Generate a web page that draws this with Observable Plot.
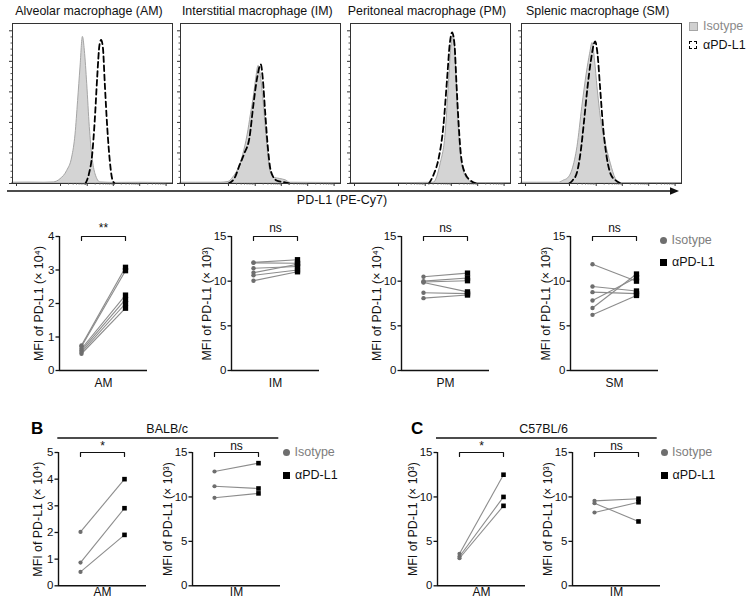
<!DOCTYPE html>
<html><head><meta charset="utf-8">
<script src="https://cdn.jsdelivr.net/npm/d3@7"></script>
<script src="https://cdn.jsdelivr.net/npm/@observablehq/plot@0.6"></script>
<style>
html,body{margin:0;padding:0;background:#fff;}
#root{position:relative;width:750px;height:605px;overflow:hidden;font-family:"Liberation Sans",Arial,Helvetica,sans-serif;}
#root svg{overflow:visible;}
</style></head>
<body><div id="root"></div>
<script>
// ---------------- DATA ----------------
const histTitles = ["Alveolar macrophage (AM)", "Interstitial macrophage (IM)", "Peritoneal macrophage (PM)", "Splenic macrophage (SM)"];
const histAxisLabel = "PD-L1 (PE-Cy7)";
const conditions = ["Isotype", "αPD-L1"];

// histogram curves: [fluorescence position (0-100 across panel), % of max]
const isoAM = [[0,0.5],[10,0.6],[20,0.5],[25.8,0.7],[30,2.8],[34.2,8.3],[37.3,17],[39.4,32],[41,54],[42.5,76],[44,96],[45.2,87],[46.7,65],[48.3,37],[50,17],[51.9,6],[55,0.7],[65,0.4],[80,0.5],[100,0.3]];
const apdAM = [[45.6,0],[47.7,6],[49.8,19],[51.5,43],[52.9,69],[54.4,91],[55.4,94],[56.5,89],[57.7,65],[59.2,37],[60.8,15],[62.3,3],[63.8,0]];
const isoIM = [[0,0.5],[20,0.5],[25,0.5],[30,1],[33,4],[36,9],[39,18],[42,32],[44,45],[46,58],[47.5,70],[48.8,77],[50,72],[51.9,54],[54,28],[56,9],[58.3,4],[62,3],[66,2],[68.5,0.5],[100,0.3]];
const apdIM = [[30,0],[34,4],[36.9,12],[40,20],[43.1,30],[45.6,52],[47.7,68],[50.2,78],[51.4,69],[52.9,47],[54.4,26],[56.5,8],[60,2],[64,1],[68,0]];
const isoPM = [[0,0.3],[40,0.3],[52,0.5],[56.3,12.7],[59.4,32],[61.5,65],[63,89],[64.6,97],[66,76],[67.3,43],[68.75,21],[70.8,8],[74,2],[77,0.3],[100,0.3]];
const apdPM = [[49,0],[52,6],[55.2,17],[58,37],[60.4,69],[62,91],[63.5,99],[65,91],[66.25,65],[67.7,37],[69.2,17],[71.9,6],[75,2],[79,0]];
const isoSM = [[0,0.5],[20,0.5],[23.5,0.5],[26.6,2],[28.75,3],[31.9,9],[35,24],[38,50],[40.8,72],[42.9,85],[44.4,92],[46,80],[47.5,63],[49.6,43],[52.7,26],[55.8,13],[58.9,3],[61,0.3],[100,0.3]];
const apdSM = [[29.8,0],[31.9,2],[34.6,7],[37,21],[39.1,41],[41.25,63],[43.3,80],[46,93],[47.5,85],[49.1,63],[51,37],[53.3,17],[55.8,6],[58.9,2],[62,0]];
const histIso = [isoAM, isoIM, isoPM, isoSM];
const histApd = [apdAM, apdIM, apdPM, apdSM];
const histYMajor = [0,20,40,60,80,100];
const histYMinor = [4,8,12,16,24,28,32,36,44,48,52,56,64,68,72,76,84,88,92,96];
const histXMajor = [2.5,30,46.7,63,79.5,96];
const histDecades = [30,46.7,63,79.5];

// panel A second row (MFI)
const groupsA = ["AM","IM","PM","SM"];
const unitsA = ["⁴","³","⁴","³"];
const sigA = ["**","ns","ns","ns"];
const yMaxA = [4,15,15,15];
const yTicksA = [[0,1,2,3,4],[0,5,10,15],[0,5,10,15],[0,5,10,15]];
const isoA = [[0.75,0.72,0.65,0.6,0.55,0.5],[12.1,12.05,11.45,10.95,10.65,10.05],[10.5,10.0,9.85,9.9,8.7,8.1],[11.9,9.4,8.77,7.84,7.0,6.23]];
const apdA = [[3.08,2.98,2.25,2.12,2.0,1.86],[12.4,12.0,11.65,11.9,11.25,11.05],[10.9,10.35,8.8,10.05,8.6,8.45],[10.0,8.9,8.6,10.4,10.8,8.4]];

// panel B (BALB/c) and C (C57BL/6)
const strainB = "BALB/c", strainC = "C57BL/6";
const groupsBC = ["AM","IM"];
const unitsB = ["⁴","³"], unitsC = ["³","³"];
const sigBC = ["*","ns"];
const yMaxB = [5,15], yMaxC = [15,15];
const yTicksB = [[0,1,2,3,4,5],[0,5,10,15]], yTicksC = [[0,5,10,15],[0,5,10,15]];
const isoB = [[2.02,0.87,0.52],[12.86,11.2,9.9]];
const apdB = [[4.0,2.91,1.91],[13.8,10.95,10.4]];
const isoC = [[3.6,3.3,3.1],[9.56,9.3,8.25]];
const apdC = [[12.5,10.0,9.0],[9.8,7.24,9.4]];

// ---------------- LAYOUT ----------------
const FONT = "'Liberation Sans', Arial, Helvetica, sans-serif";
const root = document.getElementById("root");
function place(node, left, top) {
  node.style.position = "absolute";
  node.style.left = left + "px";
  node.style.top = top + "px";
  root.appendChild(node);
  return node;
}
function label(text, x, y, {size = 12.5, anchor = "start", weight = "normal", color = "#111"} = {}) {
  const d = document.createElement("div");
  d.textContent = text;
  d.style.cssText = `position:absolute;font-family:${FONT};font-size:${size}px;font-weight:${weight};color:${color};white-space:nowrap;line-height:1;`;
  root.appendChild(d);
  const r = d.getBoundingClientRect();
  const left = anchor === "middle" ? x - r.width / 2 : anchor === "end" ? x - r.width : x;
  d.style.left = left + "px";
  d.style.top = (y - r.height / 2) + "px";
  return d;
}

// ----- histograms -----
const histLeft = [12, 180.3, 350, 520.7];
const histW = 160, histTop = 22.7, histBase = 182.7, histTopTick = 30;
const histYTop = 100 * (histBase - histTop) / (histBase - histTopTick);
const histXMinor = histDecades.flatMap(d => [2,3,4,5,6,7,8,9].map(k => d + 16.6 * Math.log10(k))).filter(v => v < 100);
const HM = {l: 6, r: 3, t: 2, b: 6};

histTitles.forEach((title, i) => {
  const p = Plot.plot({
    width: HM.l + histW + HM.r, height: HM.t + (histBase - histTop) + HM.b,
    marginLeft: HM.l, marginRight: HM.r, marginTop: HM.t, marginBottom: HM.b,
    style: {background: "transparent", fontFamily: FONT, overflow: "visible"},
    x: {domain: [0, 100]}, y: {domain: [0, histYTop]},
    marks: [
      Plot.areaY(histIso[i], {x: d => d[0], y: d => d[1], fill: "#d4d4d4", stroke: "#a5a5a5", strokeWidth: 1, curve: "monotone-x"}),
      Plot.lineY(histApd[i], {x: d => d[0], y: d => d[1], stroke: "#000", strokeWidth: 1.8, strokeDasharray: "5.5,3.5", curve: "monotone-x"}),
      Plot.frame({stroke: "#333", strokeWidth: 1}),
      Plot.axisY(histYMajor, {tickSize: 3, tickFormat: () => "", label: null, stroke: "#333"}),
      Plot.axisY(histYMinor, {tickSize: 1.5, tickFormat: () => "", label: null, stroke: "#555"}),
      Plot.axisX(histXMajor, {tickSize: 3, tickFormat: () => "", label: null, stroke: "#333"}),
      Plot.axisX(histXMinor, {tickSize: 1.5, tickFormat: () => "", label: null, stroke: "#555"})
    ]
  });
  place(p, histLeft[i] - HM.l, histTop - HM.t);
  label(title, histLeft[i] + histW / 2 - 3, 11, {size: 12.4, anchor: "middle"});
});

// long arrow under histograms
{
  const s = d3.create("svg").attr("width", 750).attr("height", 20);
  s.append("line").attr("x1", 7).attr("x2", 672).attr("y1", 10).attr("y2", 10).attr("stroke", "#111").attr("stroke-width", 1.6);
  s.append("path").attr("d", "M670,6.3L679,10L670,13.7Z").attr("fill", "#111");
  place(s.node(), 0, 180.7);
}
label(histAxisLabel, 342, 200, {size: 12.5, anchor: "middle"});

// histogram legend
{
  const sq = document.createElement("div");
  sq.style.cssText = "position:absolute;width:7px;height:7px;background:#d0d0d0;border:1px solid #a5a5a5;";
  place(sq, 689, 21.5);
  label(conditions[0], 703, 26, {size: 12.5, color: "#8a8a8a"});
  const ds = document.createElement("div");
  ds.style.cssText = "position:absolute;width:6px;height:6px;border:1.6px dashed #000;";
  place(ds, 689, 40.5);
  label(conditions[1], 703, 45, {size: 12.5, color: "#111"});
}

// ----- paired MFI panels -----
function pairPanel({axisX, top, bottom, yMax, yTicks, iso, apd, group, sig, unit, titleDx, labelPad, sigDy, sqR, dotR}) {
  const ML = 62, MR = 20, MT = 24, MB = 26, PW = 88;
  const ph = bottom - top;
  const pairs = iso.map((v, k) => ({iso: v, apd: apd[k]}));
  const xIso = conditions.indexOf("Isotype") + 0.5, xApd = conditions.indexOf("αPD-L1") + 0.5;
  const drop = yMax * 4 / ph;
  const bracket = [[xIso, yMax - drop], [xIso, yMax], [xApd, yMax], [xApd, yMax - drop]];
  const p = Plot.plot({
    width: ML + PW + MR, height: MT + ph + MB,
    marginLeft: ML, marginRight: MR, marginTop: MT, marginBottom: MB,
    style: {background: "transparent", fontFamily: FONT, fontSize: "12px", color: "#111", overflow: "visible"},
    x: {domain: [0, 2]}, y: {domain: [0, yMax]},
    marks: [
      Plot.link(pairs, {x1: () => xIso, x2: () => xApd, y1: "iso", y2: "apd", stroke: "#8c8c8c", strokeWidth: 1.1}),
      Plot.dot(iso, {x: () => xIso, y: d => d, r: dotR, fill: "#6e6e6e"}),
      Plot.dot(apd, {x: () => xApd, y: d => d, r: sqR, symbol: "square", fill: "#000"}),
      Plot.ruleX([0], {stroke: "#111", strokeWidth: 1.4}),
      Plot.ruleY([0], {stroke: "#111", strokeWidth: 1.4}),
      Plot.axisY(yTicks, {tickSize: 3.5, tickPadding: 1.5, label: null, tickFormat: d => String(d), strokeWidth: 1.3, fontSize: 11.5}),
      Plot.axisX([1], {tickSize: 0, tickPadding: labelPad, label: null, tickFormat: () => group, fontSize: 12}),
      Plot.line(bracket, {x: d => d[0], y: d => d[1], stroke: "#111", strokeWidth: 1.2}),
      Plot.text([sig], {x: () => 1, y: () => yMax, dy: sigDy, text: d => d, fontSize: 12}),
      Plot.text([`MFI of PD-L1 (× 10${unit})`], {frameAnchor: "left", rotate: -90, dx: titleDx, text: d => d, textAnchor: "middle", fontSize: 12.4})
    ]
  });
  place(p, axisX - ML, top - MT);
}

function mfiLegend(x, yC, yS) {
  const c = document.createElement("div");
  c.style.cssText = "position:absolute;width:7px;height:7px;border-radius:50%;background:#6e6e6e;";
  place(c, x - 3.5, yC - 3.5);
  label(conditions[0], x + 8, yC, {size: 12.5, color: "#7d7d7d"});
  const s = document.createElement("div");
  s.style.cssText = "position:absolute;width:7px;height:7px;background:#000;";
  place(s, x - 3.5, yS - 3.5);
  label(conditions[1], x + 8.5, yS, {size: 12.5, color: "#111"});
}

const axisXA = [59, 230.7, 400.7, 570];
const titleDxA = [-20.5, -24, -24, -24];
groupsA.forEach((g, i) => pairPanel({
  axisX: axisXA[i], top: 236, bottom: 370, yMax: yMaxA[i], yTicks: yTicksA[i],
  iso: isoA[i], apd: apdA[i], group: g, sig: sigA[i], unit: unitsA[i],
  titleDx: titleDxA[i], labelPad: 8, sigDy: -8, sqR: 3, dotR: 2.2
}));
mfiLegend(663.5, 240.7, 262.7);

// B and C
const axisXB = [58.3, 192.3], axisXC = [437.3, 571.7];
const titleDxB = [-20.5, -24], titleDxC = [-24, -24];
groupsBC.forEach((g, i) => {
  pairPanel({axisX: axisXB[i], top: 451.7, bottom: 585, yMax: yMaxB[i], yTicks: yTicksB[i],
    iso: isoB[i], apd: apdB[i], group: g, sig: sigBC[i], unit: unitsB[i],
    titleDx: titleDxB[i], labelPad: 2, sigDy: -6, sqR: 2.6, dotR: 2.1});
  pairPanel({axisX: axisXC[i], top: 451.7, bottom: 585, yMax: yMaxC[i], yTicks: yTicksC[i],
    iso: isoC[i], apd: apdC[i], group: g, sig: sigBC[i], unit: unitsC[i],
    titleDx: titleDxC[i], labelPad: 2, sigDy: -6, sqR: 2.6, dotR: 2.1});
});
mfiLegend(286.5, 452.7, 475.3);
mfiLegend(664, 452.7, 475.7);

// section headers
label("B", 31, 428, {size: 17, weight: "bold", color: "#000"});
label(strainB, 188, 429, {size: 12.5, anchor: "end"});
label("C", 411, 428, {size: 17, weight: "bold", color: "#000"});
label(strainC, 568, 429, {size: 12.5, anchor: "end"});
{
  const s = d3.create("svg").attr("width", 750).attr("height", 4);
  s.append("line").attr("x1", 57.3).attr("x2", 278.3).attr("y1", 2).attr("y2", 2).attr("stroke", "#111").attr("stroke-width", 1.5);
  s.append("line").attr("x1", 436).attr("x2", 656.7).attr("y1", 2).attr("y2", 2).attr("stroke", "#111").attr("stroke-width", 1.5);
  place(s.node(), 0, 436.3);
}
</script>
</body></html>
